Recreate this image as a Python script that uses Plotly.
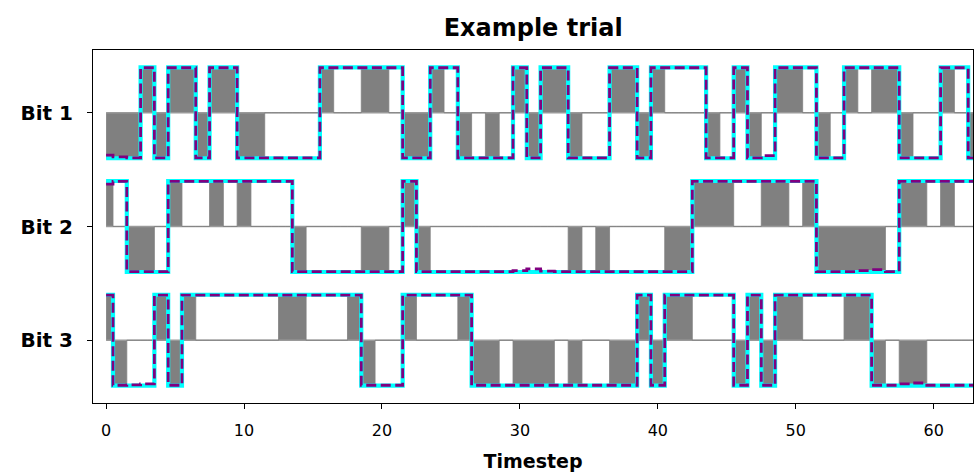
import plotly.graph_objects as go

timesteps = list(range(64))
bit_labels = ["Bit 1", "Bit 2", "Bit 3"]
bit_offsets = [0.0, -2.5, -5.0]
x_ticks = [0, 10, 20, 30, 40, 50, 60]

input_bit1 = [-1, -1, -1, 1, -1, 1, 1, -1, 1, 1,
              -1, -1, 0, 0, 0, 0, 1, 0, 0, 1,
              1, 0, -1, -1, 1, 0, -1, 0, -1, 0,
              1, -1, 1, 1, -1, 0, 0, 1, 1, -1,
              1, 0, 0, 0, -1, 0, 1, -1, 0, 1,
              1, 0, -1, 0, 1, 0, 1, 1, -1, 0,
              0, 1, 0, -1]
input_bit2 = [1, 0, -1, -1, 0, 1, 0, 0, 1, 0,
              1, 0, 0, 0, -1, 0, 0, 0, 0, -1,
              -1, 0, 1, -1, 0, 0, 0, 0, 0, 0,
              0, 0, 0, 0, -1, 0, -1, 0, 0, 0,
              0, -1, -1, 1, 1, 1, 0, 0, 1, 1,
              0, 1, -1, -1, -1, -1, -1, 0, 1, 1,
              0, 1, 0, 0]
input_bit3 = [1, -1, 0, 0, 1, -1, 1, 0, 0, 0,
              0, 0, 0, 1, 1, 0, 0, 0, 1, -1,
              0, 0, 1, 0, 0, 0, 1, -1, -1, 0,
              -1, -1, -1, 0, -1, 0, 0, -1, -1, 1,
              -1, 1, 1, 0, 0, 0, -1, 1, -1, 1,
              1, 0, 0, 0, 1, 1, -1, 0, -1, -1,
              0, 0, 0, 0]

target_bit1 = [-1, -1, -1, 1, -1, 1, 1, -1, 1, 1,
               -1, -1, -1, -1, -1, -1, 1, 1, 1, 1,
               1, 1, -1, -1, 1, 1, -1, -1, -1, -1,
               1, -1, 1, 1, -1, -1, -1, 1, 1, -1,
               1, 1, 1, 1, -1, -1, 1, -1, -1, 1,
               1, 1, -1, -1, 1, 1, 1, 1, -1, -1,
               -1, 1, 1, -1]
target_bit2 = [1, 1, -1, -1, -1, 1, 1, 1, 1, 1,
               1, 1, 1, 1, -1, -1, -1, -1, -1, -1,
               -1, -1, 1, -1, -1, -1, -1, -1, -1, -1,
               -1, -1, -1, -1, -1, -1, -1, -1, -1, -1,
               -1, -1, -1, 1, 1, 1, 1, 1, 1, 1,
               1, 1, -1, -1, -1, -1, -1, -1, 1, 1,
               1, 1, 1, 1]
target_bit3 = [1, -1, -1, -1, 1, -1, 1, 1, 1, 1,
               1, 1, 1, 1, 1, 1, 1, 1, 1, -1,
               -1, -1, 1, 1, 1, 1, 1, -1, -1, -1,
               -1, -1, -1, -1, -1, -1, -1, -1, -1, 1,
               -1, 1, 1, 1, 1, 1, -1, 1, -1, 1,
               1, 1, 1, 1, 1, 1, -1, -1, -1, -1,
               -1, -1, -1, -1]

output_bit1 = [-0.93, -0.97, -0.99, 0.99, -0.99, 0.99, 0.99, -0.99, 0.99, 0.99,
               -0.99, -0.99, -0.99, -0.99, -0.99, -0.99, 0.99, 0.99, 0.99, 0.99,
               0.99, 0.99, -0.99, -0.99, 0.99, 0.99, -0.99, -0.99, -0.99, -0.99,
               0.99, -0.99, 0.99, 0.99, -0.99, -0.99, -0.99, 0.99, 0.99, -0.99,
               0.99, 0.99, 0.99, 0.99, -0.99, -0.99, 0.99, -0.99, -0.94, 0.99,
               0.99, 0.99, -0.99, -0.99, 0.99, 0.99, 0.99, 0.99, -0.99, -0.99,
               -0.99, 0.99, 0.99, -0.99]
output_bit2 = [0.93, 0.99, -0.99, -0.99, -0.99, 0.99, 0.99, 0.99, 0.99, 0.99,
               0.99, 0.99, 0.99, 0.99, -0.99, -0.99, -0.99, -0.99, -0.99, -0.99,
               -0.99, -0.99, 0.99, -0.99, -0.99, -0.99, -0.99, -0.99, -0.99, -0.99,
               -0.97, -0.93, -0.98, -0.99, -0.99, -0.99, -0.99, -0.99, -0.99, -0.99,
               -0.99, -0.99, -0.99, 0.99, 0.99, 0.99, 0.99, 0.99, 0.99, 0.99,
               0.99, 0.99, -0.99, -0.99, -0.99, -0.97, -0.95, -0.99, 0.99, 0.99,
               0.99, 0.99, 0.99, 0.99]
output_bit3 = [0.99, -0.99, -0.98, -0.96, 0.99, -0.99, 0.99, 0.99, 0.99, 0.99,
               0.99, 0.99, 0.99, 0.99, 0.99, 0.99, 0.99, 0.99, 0.99, -0.99,
               -0.99, -0.99, 0.99, 0.99, 0.99, 0.99, 0.99, -0.99, -0.99, -0.99,
               -0.99, -0.99, -0.99, -0.99, -0.99, -0.99, -0.99, -0.99, -0.99, 0.99,
               -0.99, 0.99, 0.99, 0.99, 0.99, 0.99, -0.99, 0.99, -0.99, 0.99,
               0.99, 0.99, 0.99, 0.99, 0.99, 0.99, -0.99, -0.99, -0.96, -0.94,
               -0.99, -0.99, -0.99, -0.99]

inputs = [input_bit1, input_bit2, input_bit3]
targets = [target_bit1, target_bit2, target_bit3]
outputs = [output_bit1, output_bit2, output_bit3]

fig = go.Figure()

for k in range(3):
    off = bit_offsets[k]
    # baseline (zero input level)
    fig.add_trace(go.Scatter(
        x=timesteps, y=[off] * len(timesteps), mode="lines",
        line=dict(color="#9a9a9a", width=1.6), showlegend=False, hoverinfo="skip"))
    # input pulses, filled to baseline
    fig.add_trace(go.Scatter(
        x=timesteps, y=[off + v for v in inputs[k]], mode="lines",
        line=dict(color="#808080", width=0.8, shape="hvh"),
        fill="tonexty", fillcolor="#808080", showlegend=False, hoverinfo="skip"))

for k in range(3):
    off = bit_offsets[k]
    fig.add_trace(go.Scatter(
        x=timesteps, y=[off + v for v in targets[k]], mode="lines",
        line=dict(color="#00ffff", width=4.2, shape="hvh"),
        showlegend=False, hoverinfo="skip"))
    fig.add_trace(go.Scatter(
        x=timesteps, y=[off + v for v in outputs[k]], mode="lines",
        line=dict(color="#800080", width=2.8, shape="hvh", dash="10px,4.5px"),
        showlegend=False, hoverinfo="skip"))

fig.update_layout(
    width=974, height=476,
    margin=dict(l=93, r=1, t=50, b=73, autoexpand=False),
    paper_bgcolor="white", plot_bgcolor="white",
    font=dict(family="DejaVu Sans", color="black"),
    title=dict(text="Example trial", x=0.5474, xanchor="center",
               y=1 - 28 / 476, yanchor="middle", yref="container",
               font=dict(size=24, weight="bold", family="DejaVu Sans")),
    xaxis=dict(range=[-0.95, 62.85], tickvals=x_ticks, ticks="outside", ticklen=5,
               tickwidth=1, tickcolor="black", showline=True, linecolor="black",
               linewidth=1, mirror=True, showgrid=False, zeroline=False,
               automargin=False, tickfont=dict(size=16), ticklabelstandoff=8,
               title=dict(text="Timestep", font=dict(size=19, weight="bold"), standoff=15)),
    yaxis=dict(range=[-6.38, 1.38], tickvals=bit_offsets, ticktext=bit_labels,
               ticks="outside", ticklen=5, tickwidth=1, tickcolor="black",
               showline=True, linecolor="black", linewidth=1, mirror=True,
               showgrid=False, zeroline=False, automargin=False,
               ticklabelstandoff=10,
               tickfont=dict(size=20, weight="bold")),
)

fig.write_html(
    "out.html",
    config={"displayModeBar": False},
    post_script="document.body.style.margin='0';document.body.style.overflow='hidden';",
)
